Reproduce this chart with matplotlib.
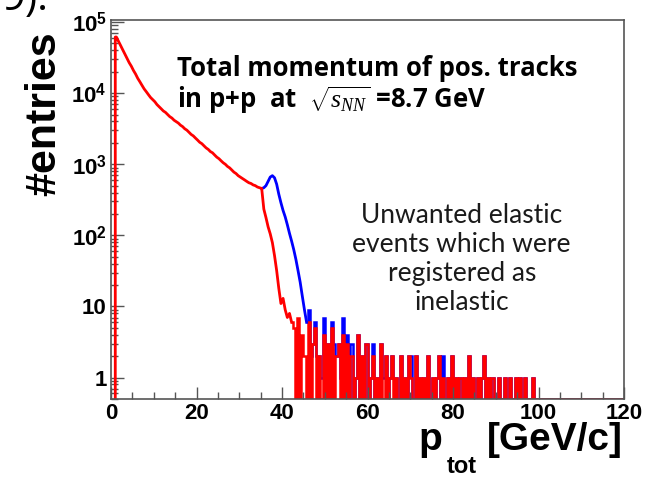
import matplotlib
matplotlib.use('Agg')
import matplotlib.pyplot as plt
from matplotlib.ticker import MultipleLocator, FixedLocator, NullFormatter
import numpy as np

# histogram binning (GeV/c)
bin_width = 0.5
x_max = 120.0

# red: total momentum of positive tracks, bins starting at 1.0 GeV/c
red_start = 1.0
red_smooth = [61700, 53700, 46800, 40700, 35500, 30900, 26900, 24000, 20900, 18600,
              16200, 14500, 12900, 11500, 10500, 9550, 8710, 8130, 7590, 6920,
              6460, 6030, 5620, 5370, 5010, 4680, 4470, 4170, 3980, 3800,
              3550, 3390, 3160, 3020, 2820, 2630, 2510, 2340, 2190, 2040,
              1950, 1820, 1700, 1620, 1510, 1450, 1350, 1260, 1200, 1120,
              1050, 1000, 933, 891, 832, 776, 741, 692, 661, 631,
              603, 575, 550, 537, 513, 501, 479, 468, 457]
red_drop = [234, 178, 132, 105, 79, 52, 32, 18, 11, 13, 9, 7, 8, 6]
red_noise = [5, 0, 7, 0, 4, 2, 0, 6, 0, 3, 5, 0, 2, 0, 4, 0, 3, 0, 5, 0,
             2, 3, 0, 4, 0,
             3, 0, 2, 0, 1, 4, 0, 2, 0, 3, 0, 1, 2, 0, 1, 0, 3, 0, 2, 0,
             1, 2, 0, 1, 0, 2, 0, 1, 0, 2,
             1, 0, 2, 0, 1, 0, 1, 0, 2, 0, 1, 0, 1, 2, 0, 1, 0, 1, 0, 2,
             0, 1, 0, 1, 0, 1, 0, 2, 0, 1, 0, 1, 0, 1, 2, 0, 1, 0, 1, 0,
             0, 1, 0, 0, 1, 0, 1, 0, 0, 1, 0, 1, 0, 1, 0, 0, 0, 1, 0, 0]

# blue: same sample before elastic rejection, differs from 35.5 GeV/c on
blue_start = 35.5
blue_peak = [468, 501, 575, 661, 692, 646, 525, 380, 288, 224,
             182, 141, 107, 83, 63, 46, 32, 22, 14, 9, 6]
blue_extra_p = [46.0, 46.5, 47.5, 48.0, 49.0, 49.5, 51.0, 51.5, 52.0, 53.5,
                54.0, 55.0, 56.0, 61.0, 63.5, 66.0, 70.0, 71.5, 77.5]
blue_extra_n = [3, 2, 1, 2, 1, 3, 2, 1, 3, 1,
                3, 1, 1, 1, 1, 1, 1, 1, 1]

edges = np.arange(0, x_max + bin_width / 2, bin_width)
centers = edges[:-1] + bin_width / 2
red = np.zeros(len(edges) - 1)
i0 = int(round(red_start / bin_width))
red_vals = red_smooth + red_drop + red_noise
red[i0:i0 + len(red_vals)] = red_vals

blue = red.copy()
j0 = int(round(blue_start / bin_width))
blue[j0:j0 + len(blue_peak)] = blue_peak
for p, n in zip(blue_extra_p, blue_extra_n):
    blue[int(round(p / bin_width))] += n

y_min, y_max = 0.5, 1.07e5

plt.rcParams['font.family'] = ['Liberation Sans', 'DejaVu Sans']
plt.rcParams['mathtext.fontset'] = 'custom'
plt.rcParams['mathtext.rm'] = 'Liberation Serif'
plt.rcParams['mathtext.it'] = 'Liberation Serif:italic'
plt.rcParams['mathtext.bf'] = 'Liberation Sans:bold'

fig = plt.figure(figsize=(6.54, 4.78), dpi=100)
ax = fig.add_axes([111 / 654, 1 - 399 / 478, 513 / 654, 379 / 478])

# smooth part as a line through bin centres, sparse tail as ROOT-like steps
k0 = i0 + len(red_smooth) + len(red_drop)   # first noise bin of red
kb = j0 + len(blue_peak)                     # first noise bin of blue
bx = centers[j0 - 1:kb]
by = np.r_[red[j0 - 1], blue[j0:kb]]
ax.plot(bx, by, color='#0000ff', lw=2)
ax.stairs(np.maximum(blue[kb - 1:], y_min), edges[kb - 1:], color='#0000ff', lw=1.8, baseline=None)

rx = np.r_[red_start, red_start, centers[i0:k0]]
ry = np.r_[y_min, red[i0], red[i0:k0]]
ax.plot(rx, ry, color='#ff0000', lw=2)
ax.stairs(np.maximum(red[k0 - 1:], y_min), edges[k0 - 1:], color='#ff0000', lw=1.8, baseline=None)

ax.set_yscale('log')
ax.set_xlim(0, x_max)
ax.set_ylim(y_min, y_max)

ax.xaxis.set_major_locator(MultipleLocator(20))
ax.xaxis.set_minor_locator(MultipleLocator(5))
ax.yaxis.set_major_locator(FixedLocator([1, 10, 100, 1e3, 1e4, 1e5]))
minors = [m * 10 ** d for d in range(-1, 5) for m in range(2, 10)]
ax.yaxis.set_minor_locator(FixedLocator(minors))
ax.yaxis.set_minor_formatter(NullFormatter())
ax.set_yticklabels(['1', '10', r'10$^{\mathbf{2}}$', r'10$^{\mathbf{3}}$',
                    r'10$^{\mathbf{4}}$', r'10$^{\mathbf{5}}$'])
ax.tick_params(which='both', direction='in', top=False, right=False, color='#555555')
ax.tick_params(which='major', length=9, width=1, labelsize=16, pad=3)
ax.tick_params(which='minor', length=5, width=1)
for lab in ax.get_xticklabels() + ax.get_yticklabels():
    lab.set_fontweight('bold')
for s in ax.spines.values():
    s.set_color('#555555')
    s.set_linewidth(1.2)

fig.text(0.068, 0.762, '#entries', rotation=90, fontsize=31, fontweight='bold',
         ha='center', va='center')
fig.text(0.64, 0.058, 'p', fontsize=28, fontweight='bold', ha='left', va='baseline')
fig.text(0.683, 0.011, 'tot', fontsize=17, fontweight='bold', ha='left', va='baseline')
fig.text(0.745, 0.058, '[GeV/c]', fontsize=28, fontweight='bold', ha='left', va='baseline')

fig.text(0.271, 0.841, 'Total momentum of pos. tracks', family=['Open Sans', 'DejaVu Sans'],
         fontsize=18.5, fontweight='bold', ha='left', va='baseline')
fig.text(0.271, 0.774, r'in p+p  at  $\sqrt{s_{NN}}$ =8.7 GeV', family=['Open Sans', 'DejaVu Sans'],
         fontsize=18.5, fontweight='bold', ha='left', va='baseline')

fig.text(0.706, 0.458, 'Unwanted elastic\nevents which were\nregistered as\ninelastic',
         family=['Lato', 'DejaVu Sans'], fontsize=19, color='#1a1a1a',
         ha='center', va='center', linespacing=1.2)

# clipped bit of slide text above the chart
fig.text(0.003, 0.979, '9).', fontsize=30, ha='left', va='baseline', family=['Open Sans'])

fig.savefig('out.png', dpi=100)
